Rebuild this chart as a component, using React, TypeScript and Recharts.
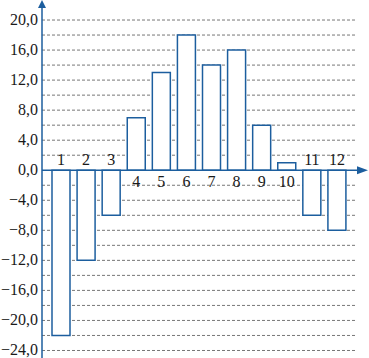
import { BarChart, Bar, XAxis, YAxis, CartesianGrid, ReferenceLine, LabelList } from 'recharts';

const months = ['1', '2', '3', '4', '5', '6', '7', '8', '9', '10', '11', '12'];
const values = [-22, -12, -6, 7, 13, 18, 14, 16, 6, 1, -6, -8];
const yTicks = [-24, -20, -16, -12, -8, -4, 0, 4, 8, 12, 16, 20];
const gridLines = [-24, -22, -20, -18, -16, -14, -12, -10, -8, -6, -4, -2, 2, 4, 6, 8, 10, 12, 14, 16, 18, 20];

const BLUE = '#1c5e9e';
const FONT = 'Liberation Serif';

const data = months.map((name, i) => ({ name, value: values[i] }));

const fmt = (v: number) => {
  const s = Math.abs(v).toFixed(1).replace('.', ',');
  return v < 0 ? `\u2212${s}` : s;
};

function MonthLabel(props: any) {
  const { x, y, width, height, value, index } = props;
  const v = values[index];
  const top = Math.min(y, y + height);
  const bottom = Math.max(y, y + height);
  const zeroY = v >= 0 ? bottom : top;
  const ty = v >= 0 ? zeroY + 17 : zeroY - 5;
  return (
    <text x={x + width / 2} y={ty} textAnchor="middle" fontFamily={FONT} fontSize={16} fill="#1a1a1a">
      {value}
    </text>
  );
}

function YTick(props: any) {
  const { x, y, payload } = props;
  return (
    <text x={x} y={y} dy={5} textAnchor="end" fontFamily={FONT} fontSize={16} fill="#1a1a1a">
      {fmt(payload.value)}
    </text>
  );
}

function XAxisArrow(props: any) {
  const { x1, y1 } = props;
  const xEnd = 357;
  return (
    <g>
      <line x1={x1} y1={y1} x2={xEnd} y2={y1} stroke={BLUE} strokeWidth={1.5} />
      <polygon points={`${xEnd},${y1 - 4} ${xEnd + 11},${y1} ${xEnd},${y1 + 4}`} fill={BLUE} />
    </g>
  );
}

function YAxisArrow(props: any) {
  const { x1, y1 } = props;
  return <polygon points={`${x1 - 4},${y1 + 3} ${x1},${y1 - 5} ${x1 + 4},${y1 + 3}`} fill={BLUE} />;
}

export default function App() {
  return (
    <div style={{ position: 'absolute', left: 0, top: 0, width: 369, height: 358, background: '#fff' }}>
      <BarChart width={369} height={358} data={data} margin={{ top: 5, right: 12, bottom: 0, left: 0 }}>
        <CartesianGrid
          horizontal
          vertical={false}
          horizontalValues={gridLines}
          stroke="#777"
          strokeDasharray="3 2"
        />
        <XAxis dataKey="name" hide padding={{ left: 6, right: 8 }} />
        <YAxis
          domain={[-25, 22]}
          ticks={yTicks}
          interval={0}
          width={42}
          tickLine={false}
          tickSize={0}
          tickMargin={4}
          axisLine={{ stroke: BLUE, strokeWidth: 1.5 }}
          tick={<YTick />}
          allowDataOverflow
        />
        <Bar dataKey="value" barSize={18} fill="#ffffff" stroke={BLUE} strokeWidth={1.5} isAnimationActive={false}>
          <LabelList dataKey="name" content={<MonthLabel />} />
        </Bar>
        <ReferenceLine y={0} shape={<XAxisArrow />} />
        <ReferenceLine y={22} shape={<YAxisArrow />} />
      </BarChart>
    </div>
  );
}
